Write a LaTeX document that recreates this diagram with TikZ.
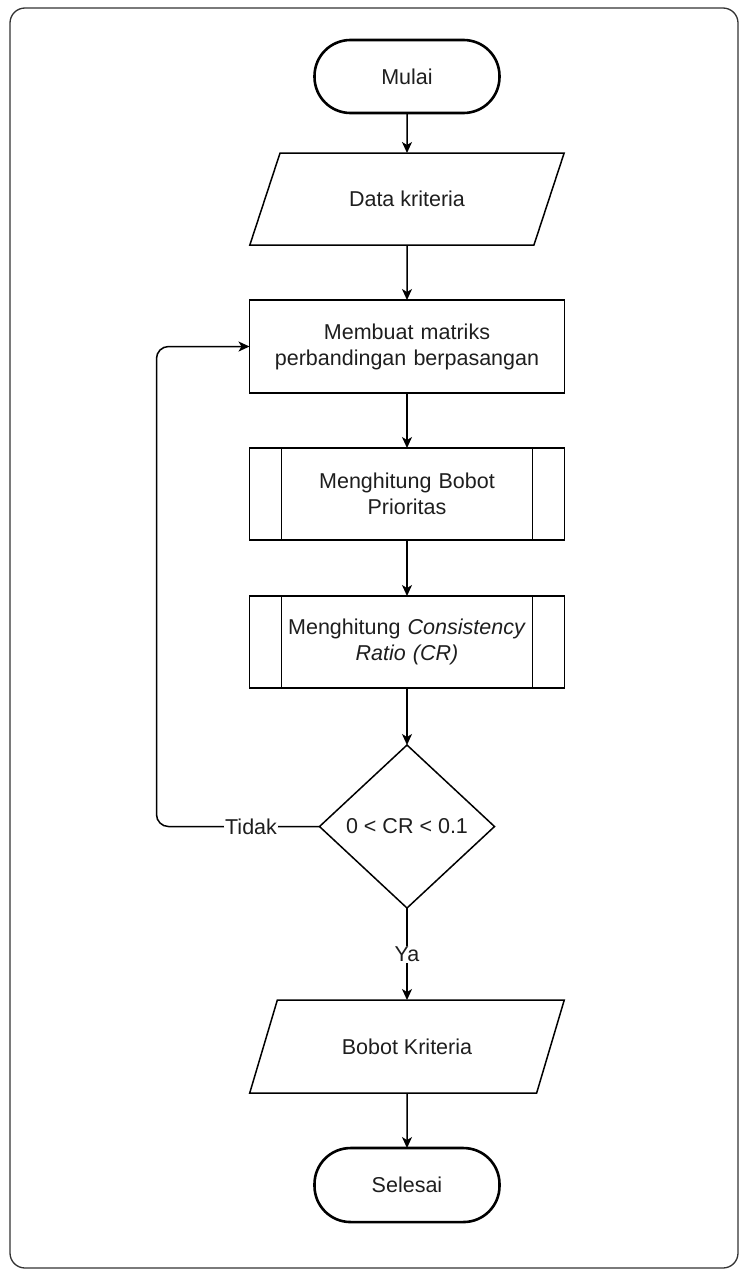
\documentclass[tikz,border=0pt]{standalone}
\usepackage{fontspec}
\setmainfont{Liberation Sans}
\usetikzlibrary{shapes.geometric, arrows.meta, positioning, calc}
\definecolor{inkgray}{RGB}{30,30,30}

\begin{document}
\begin{tikzpicture}[
    node distance=55pt,
    every node/.style={font=\fontsize{21.5}{26}\selectfont, text=inkgray, outer sep=0pt},
    terminal/.style={rectangle, draw=black, line width=2.6pt, rounded corners=36pt, minimum width=185pt, minimum height=73pt},
    io/.style={trapezium, trapezium left angle=57, trapezium right angle=123, trapezium stretches=true, draw=black, line width=1.5pt, minimum width=315pt, minimum height=92pt},
    process/.style={rectangle, draw=black, line width=1.5pt, minimum width=315pt, minimum height=93pt, text width=295pt, align=center},
    subproc/.style={process, path picture={
        \draw[line width=1.5pt] ([xshift=32pt]path picture bounding box.north west) -- ([xshift=32pt]path picture bounding box.south west);
        \draw[line width=1.5pt] ([xshift=-32pt]path picture bounding box.north east) -- ([xshift=-32pt]path picture bounding box.south east);}},
    decision/.style={diamond, draw=black, line width=1.5pt, minimum width=175pt, minimum height=163pt, inner sep=0pt},
    arrow/.style={-{Stealth[length=11pt, width=10pt, inset=3pt]}, line width=1.5pt},
    lbl/.style={fill=white, inner sep=1pt},
]

\useasboundingbox (0,0) rectangle (740pt,-1274pt);

% Outer frame
\draw[rounded corners=15pt, line width=1.3pt, draw=black!80] (10pt,-8pt) rectangle (738pt,-1268pt);

% Flow
\node[terminal] (start) at (407pt,-76.5pt) {Mulai};
\node[io, below=40pt of start] (data) {Data kriteria};
\node[process, below=of data] (mat) {Membuat matriks\\perbandingan berpasangan};
\node[subproc, below=of mat, minimum height=92pt] (bobot) {Menghitung Bobot\\Prioritas};
\node[subproc, below=56pt of bobot, minimum height=92pt] (cr) {Menghitung \textit{Consistency}\\\textit{Ratio (CR)}};
\node[decision, below=57pt of cr] (dec) {0 < CR < 0.1};
\node[io, below=92pt of dec, minimum height=93pt] (hasil) {Bobot Kriteria};
\node[terminal, below=of hasil, minimum height=74pt] (stop) {Selesai};

% Arrows
\draw[arrow] (start) -- (data);
\draw[arrow] (data) -- (mat);
\draw[arrow] (mat) -- (bobot);
\draw[arrow] (bobot) -- (cr);
\draw[arrow] (cr) -- (dec);
\draw[arrow] (dec.south) -- node[lbl] {Ya} (hasil.north);
\draw[arrow] (hasil) -- (stop);

% Loop back
\draw[arrow, rounded corners=12pt] (dec.west) -- node[lbl, pos=0.42] {Tidak} ++(-163pt,0) |- (mat.west);

\end{tikzpicture}
\end{document}
